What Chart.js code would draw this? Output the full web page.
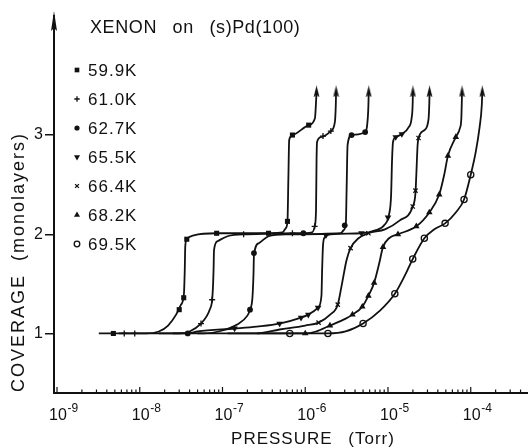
<!DOCTYPE html>
<html>
<head>
<meta charset="utf-8">
<script src="https://cdn.jsdelivr.net/npm/chart.js@4.4.1/dist/chart.umd.min.js"></script>
<style>
  html, body { margin: 0; padding: 0; background: #fff; }
  canvas { display: block; }
</style>
</head>
<body>
<canvas id="chart" width="528" height="448"></canvas>
<script>
// Xenon on (s)Pd(100): adsorption isotherms, coverage vs. pressure
const temps = ['59.9K', '61.0K', '62.7K', '65.5K', '66.4K', '68.2K', '69.5K'];

// curves: [pressure (Torr), coverage (monolayers)]
const curve599 = [[3.2e-9,1.00],[1.2e-8,1.00],[1.7e-8,1.02],[2.2e-8,1.08],[2.75e-8,1.19],[3.15e-8,1.29],[3.42e-8,1.40],[3.5e-8,1.64],[3.55e-8,1.88],[3.7e-8,1.95],[4.5e-8,1.99],[8.5e-8,2.01],[2.6e-7,2.01],[5.3e-7,2.02],[5.8e-7,2.06],[6.1e-7,2.13],[6.25e-7,2.55],[6.4e-7,2.95],[7.0e-7,3.00],[1.1e-6,3.10],[1.31e-6,3.17],[1.35e-6,3.33],[1.37e-6,3.44]];
const curve610 = [[5.6e-9,1.00],[3.0e-8,1.00],[4.0e-8,1.02],[5.5e-8,1.10],[6.5e-8,1.18],[7.0e-8,1.24],[7.5e-8,1.34],[7.7e-8,1.50],[7.8e-8,1.64],[7.9e-8,1.84],[8.7e-8,1.93],[1.15e-7,1.98],[2.0e-7,2.00],[7.8e-7,2.01],[1.21e-6,2.02],[1.3e-6,2.08],[1.35e-6,2.24],[1.37e-6,2.75],[1.39e-6,2.93],[1.55e-6,2.98],[2.04e-6,3.04],[2.28e-6,3.13],[2.34e-6,3.30],[2.36e-6,3.44]];
const curve627 = [[1.7e-8,1.00],[5.8e-8,1.00],[1.0e-7,1.03],[1.5e-7,1.09],[2.0e-7,1.18],[2.15e-7,1.24],[2.3e-7,1.36],[2.37e-7,1.60],[2.4e-7,1.79],[2.75e-7,1.91],[3.6e-7,1.98],[5.9e-7,2.00],[2.68e-6,2.01],[2.9e-6,2.04],[3.1e-6,2.12],[3.16e-6,2.44],[3.25e-6,2.90],[3.63e-6,3.00],[5.3e-6,3.03],[5.6e-6,3.10],[5.8e-6,3.30],[5.85e-6,3.44]];
const curve655 = [[2.5e-8,1.00],[3.8e-8,1.00],[5.0e-8,1.02],[1.4e-7,1.05],[2.6e-7,1.07],[4.9e-7,1.10],[8.9e-7,1.16],[1.09e-6,1.19],[1.43e-6,1.26],[1.57e-6,1.38],[1.6e-6,1.64],[1.64e-6,1.89],[1.72e-6,1.97],[2.04e-6,2.00],[4.78e-6,2.01],[7.0e-6,2.04],[9.2e-6,2.10],[1.03e-5,2.20],[1.09e-5,2.39],[1.12e-5,2.75],[1.15e-5,2.93],[1.24e-5,2.98],[1.47e-5,3.01],[1.78e-5,3.08],[1.93e-5,3.17],[1.99e-5,3.33],[2.0e-5,3.44]];
const curve664 = [[5.0e-8,1.00],[2.5e-7,1.00],[4.9e-7,1.04],[1.0e-6,1.08],[1.45e-6,1.11],[2.0e-6,1.19],[2.47e-6,1.29],[2.75e-6,1.48],[3.16e-6,1.74],[3.53e-6,1.86],[4.4e-6,1.96],[5.8e-6,2.01],[9.2e-6,2.05],[1.39e-5,2.14],[1.99e-5,2.28],[2.15e-5,2.42],[2.2e-5,2.60],[2.28e-5,2.90],[2.34e-5,2.97],[2.75e-5,3.05],[3.08e-5,3.15],[3.16e-5,3.33],[3.18e-5,3.44]];
const curve682 = [[1.15e-7,1.00],[7.8e-7,1.00],[1.0e-6,1.00],[1.35e-6,1.02],[1.99e-6,1.08],[3.08e-6,1.15],[3.72e-6,1.19],[4.9e-6,1.27],[5.8e-6,1.38],[6.8e-6,1.51],[7.8e-6,1.70],[8.7e-6,1.87],[1.03e-5,1.96],[1.32e-5,2.00],[2.2e-5,2.08],[3.16e-5,2.22],[4.16e-5,2.40],[4.78e-5,2.60],[5.3e-5,2.79],[6.6e-5,2.98],[7.4e-5,3.07],[7.7e-5,3.17],[7.8e-5,3.33],[7.85e-5,3.44]];
const curve695 = [[2.6e-7,1.00],[1.88e-6,1.00],[3.08e-6,1.02],[5.0e-6,1.10],[8.0e-6,1.23],[1.21e-5,1.40],[1.59e-5,1.58],[1.99e-5,1.75],[2.75e-5,1.96],[3.63e-5,2.05],[4.9e-5,2.11],[6.6e-5,2.22],[8.3e-5,2.35],[1.0e-4,2.60],[1.15e-4,2.83],[1.28e-4,3.08],[1.36e-4,3.30],[1.38e-4,3.44]];

// measured points (symbols)
const marks599 = [[4.8e-9,1.00],[3.0e-8,1.24],[3.4e-8,1.36],[3.7e-8,1.95],[8.5e-8,2.01],[3.6e-7,2.01],[6.1e-7,2.13],[7.0e-7,3.00],[1.1e-6,3.10]];
const marks610 = [[6.5e-9,1.00],[8.7e-9,1.00],[5.5e-8,1.10],[7.5e-8,1.34],[1.8e-7,2.00],[7.0e-7,2.01],[1.3e-6,2.08],[1.64e-6,2.99],[2.04e-6,3.04]];
const marks627 = [[3.8e-8,1.00],[2.15e-7,1.24],[2.4e-7,1.81],[9.5e-7,2.01],[3.0e-6,2.09],[3.63e-6,3.00],[5.3e-6,3.03]];
const marks655 = [[1.4e-7,1.05],[4.9e-7,1.10],[8.9e-7,1.16],[1.09e-6,1.19],[1.43e-6,1.26],[1.78e-6,1.99],[4.78e-6,2.01],[1.0e-5,2.17],[1.24e-5,2.98],[1.47e-5,3.01]];
const marks664 = [[1.45e-6,1.11],[2.47e-6,1.29],[3.53e-6,1.86],[5.8e-6,2.01],[1.99e-5,2.28],[2.15e-5,2.44],[2.34e-5,2.97]];
const marks682 = [[1.0e-6,1.00],[1.99e-6,1.08],[3.72e-6,1.19],[4.9e-6,1.27],[5.8e-6,1.38],[6.8e-6,1.51],[8.7e-6,1.87],[1.32e-5,2.00],[2.2e-5,2.08],[3.16e-5,2.22],[4.16e-5,2.40],[5.3e-5,2.79],[6.6e-5,2.98]];
const marks695 = [[6.5e-7,1.00],[1.88e-6,1.00],[5.0e-6,1.10],[1.21e-5,1.40],[1.99e-5,1.75],[2.75e-5,1.96],[4.9e-5,2.11],[8.3e-5,2.35],[1.0e-4,2.60]];

// arrows at the top of each isotherm (condensation)
const arrowP = [1.37e-6, 2.36e-6, 5.85e-6, 2.0e-5, 3.18e-5, 7.85e-5, 1.38e-4];
const arrowCov = [3.44, 3.44, 3.44, 3.44, 3.44, 3.44, 3.44];

// axis ticks
const xDecades = [-9, -8, -7, -6, -5, -4];
const xMinor = [2, 3, 4, 5, 6, 7, 8, 9];
const yTicks = [1, 2, 3];

const curves = [curve599, curve610, curve627, curve655, curve664, curve682, curve695];
const marks = [marks599, marks610, marks627, marks655, marks664, marks682, marks695];

const FONT = "'Liberation Sans', Arial, sans-serif";
const INK = '#111';

const symbols = [
  { pointStyle: 'rect', radius: 3.6, bg: INK, borderWidth: 0 },
  { pointStyle: 'cross', radius: 3, bg: INK, borderWidth: 1.3 },
  { pointStyle: 'circle', radius: 2.9, bg: INK, borderWidth: 0 },
  { pointStyle: 'triangle', radius: 3.8, rotation: 180, bg: INK, borderWidth: 0 },
  { pointStyle: 'crossRot', radius: 3, bg: INK, borderWidth: 1.3 },
  { pointStyle: 'triangle', radius: 3.8, bg: INK, borderWidth: 0 },
  { pointStyle: 'circle', radius: 3.1, bg: '#fff', borderWidth: 1.3 },
];

// narrow arrow head used as point style
const arrowHead = document.createElement('canvas');
arrowHead.width = 7; arrowHead.height = 12;
(() => {
  const c = arrowHead.getContext('2d');
  c.fillStyle = INK;
  c.beginPath();
  c.moveTo(3.5, 0); c.lineTo(6.5, 12); c.lineTo(3.5, 9.5); c.lineTo(0.5, 12);
  c.closePath(); c.fill();
})();

const toXY = (arr) => arr.map(([x, y]) => ({ x, y }));

const datasets = [];
curves.forEach((c, i) => {
  datasets.push({
    label: temps[i], data: toXY(c),
    borderColor: INK, borderWidth: 1.8, pointRadius: 0,
    cubicInterpolationMode: 'monotone', fill: false,
  });
});
marks.forEach((m, i) => {
  const s = symbols[i];
  datasets.push({
    label: temps[i] + ' pts', data: toXY(m), showLine: false,
    pointStyle: s.pointStyle, pointRadius: s.radius, pointRotation: s.rotation || 0,
    pointBackgroundColor: s.bg, pointBorderColor: INK, pointBorderWidth: s.borderWidth,
  });
});
datasets.push({
  label: 'arrows', data: arrowP.map((p, i) => ({ x: p, y: arrowCov[i] })),
  showLine: false, pointStyle: arrowHead, pointRadius: 6,
});

// axis decorations, titles and the in-plot legend, drawn like the printed figure
const paperPlugin = {
  id: 'paper',
  afterDraw(chart) {
    const { ctx, chartArea: a, scales: { x } } = chart;
    ctx.save();
    ctx.fillStyle = INK;
    ctx.strokeStyle = INK;

    // arrow on top of the coverage axis
    ctx.lineWidth = 2;
    ctx.beginPath(); ctx.moveTo(a.left, a.top); ctx.lineTo(a.left, 20); ctx.stroke();
    ctx.beginPath();
    ctx.moveTo(a.left, 11); ctx.lineTo(a.left + 3, 31); ctx.lineTo(a.left, 28); ctx.lineTo(a.left - 3, 31);
    ctx.closePath(); ctx.fill();

    // full-width pressure axis line
    ctx.beginPath(); ctx.moveTo(a.left, a.bottom); ctx.lineTo(chart.width, a.bottom); ctx.stroke();

    // pressure ticks (inward) and labels 10^n
    ctx.lineWidth = 1.2;
    xDecades.forEach((e) => {
      [1, ...xMinor].forEach((m) => {
        const v = m * Math.pow(10, e);
        if (v < x.min || v > x.max) return;
        const px = x.getPixelForValue(v);
        const len = m === 1 ? 6 : 3.5;
        ctx.beginPath(); ctx.moveTo(px, a.bottom); ctx.lineTo(px, a.bottom - len); ctx.stroke();
      });
      const px = x.getPixelForValue(Math.pow(10, e));
      ctx.textBaseline = 'alphabetic';
      ctx.textAlign = 'center';
      ctx.font = `16px ${FONT}`;
      ctx.fillText('10', px + 1, 420);
      ctx.textAlign = 'left';
      ctx.font = `12px ${FONT}`;
      ctx.fillText('-' + Math.abs(e), px + 10.5, 412);
    });

    // axis titles
    ctx.letterSpacing = '1px';
    ctx.wordSpacing = '10px';
    ctx.font = `17px ${FONT}`;
    ctx.textAlign = 'center';
    ctx.fillText('PRESSURE (Torr)', 313, 444);

    ctx.save();
    ctx.translate(24, 392);
    ctx.rotate(-Math.PI / 2);
    ctx.letterSpacing = '2px';
    ctx.wordSpacing = '6px';
    ctx.font = `18px ${FONT}`;
    ctx.textAlign = 'left';
    ctx.fillText('COVERAGE (monolayers)', 0, 0);
    ctx.restore();

    // figure title
    ctx.letterSpacing = '0.6px';
    ctx.wordSpacing = '10px';
    ctx.font = `18px ${FONT}`;
    ctx.textAlign = 'left';
    ctx.fillText('XENON on (s)Pd(100)', 90, 33);

    // legend
    ctx.letterSpacing = '1px';
    ctx.wordSpacing = '0px';
    ctx.font = `17px ${FONT}`;
    temps.forEach((t, i) => {
      const base = 76 + i * 29;
      const s = symbols[i];
      ctx.fillStyle = s.bg;
      ctx.strokeStyle = INK;
      ctx.lineWidth = s.borderWidth || 1;
      Chart.helpers.drawPoint(ctx, {
        pointStyle: s.pointStyle, radius: s.radius - 0.3, rotation: s.rotation || 0,
        borderWidth: s.borderWidth,
      }, 77, base - 6);
      ctx.fillStyle = INK;
      ctx.fillText(t, 88, base);
    });
    ctx.restore();
  },
};

new Chart(document.getElementById('chart'), {
  type: 'line',
  data: { datasets },
  plugins: [paperPlugin],
  options: {
    responsive: false,
    animation: false,
    events: [],
    layout: { padding: { top: 16, left: 0, right: 0, bottom: 0 } },
    plugins: { legend: { display: false }, tooltip: { enabled: false } },
    scales: {
      x: {
        type: 'logarithmic', min: 9.2e-10, max: 4.05e-4,
        grid: { display: false },
        border: { display: true, color: INK, width: 2 },
        ticks: { display: false },
        afterFit: (s) => { s.height = 55; },
      },
      y: {
        type: 'linear', min: 0.4, max: 4.2,
        grid: {
          drawOnChartArea: false, drawTicks: true, tickLength: 9, lineWidth: 1.5,
          color: (c) => (c.tick && yTicks.includes(c.tick.value) ? INK : 'rgba(0,0,0,0)'),
        },
        border: { display: true, color: INK, width: 2 },
        ticks: {
          stepSize: 1, padding: 2, color: INK,
          font: { family: FONT, size: 16 },
          callback: (v) => (yTicks.includes(v) ? String(v) : ''),
        },
        afterFit: (s) => { s.width = 54; },
      },
    },
  },
});
</script>
</body>
</html>
